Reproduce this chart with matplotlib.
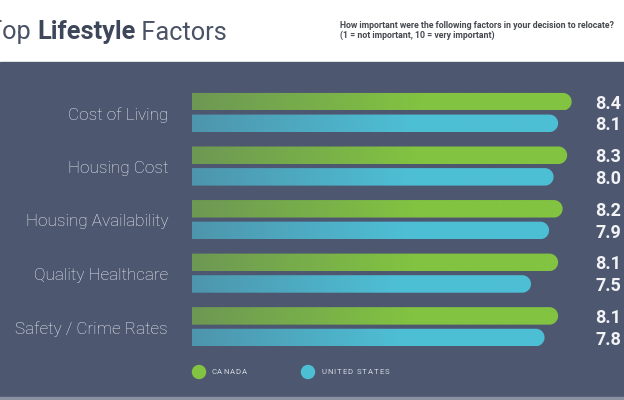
import numpy as np
import matplotlib
matplotlib.use("Agg")
import matplotlib.pyplot as plt
from matplotlib import transforms
from matplotlib.patches import Rectangle, Circle, Polygon
from matplotlib.colors import to_rgb
from matplotlib.font_manager import FontProperties

# data
factors = ["Cost of Living", "Housing Cost", "Housing Availability",
           "Quality Healthcare", "Safety / Crime Rates"]
canada = [8.4, 8.3, 8.2, 8.1, 8.1]
united_states = [8.1, 8.0, 7.9, 7.5, 7.8]
series_names = ["CANADA", "UNITED STATES"]

W, H = 624, 400
BG = "#4e5770"
GREEN = "#82c341"
BLUE = "#4dbfd5"
TITLE_COL = "#3d4759"

# layout in pixels (from top-left)
bar_x0 = 192
px_per_unit = 45.2
grp_y0 = 112.5
grp_step = 53.55
bar_h = 17.5
bar_off = 10.8

fig = plt.figure(figsize=(W / 100, H / 100), dpi=100)
px = transforms.Affine2D().scale(1 / W, -1 / H).translate(0, 1) + fig.transFigure
renderer = fig.canvas.get_renderer()

fig.patches.append(Rectangle((0, 62), W, 335, transform=px, color=BG, zorder=-2))
fig.patches.append(Rectangle((0, 397), W, 3, transform=px, color="#8a90a0", zorder=-2))


def spaced_text(x, y, s, track, size, color):
    # letter-spaced text: place each char at the advance of its prefix
    fp = FontProperties(family="Roboto", size=size)
    for k, ch in enumerate(s):
        if ch == " ":
            continue
        w = renderer.get_text_width_height_descent(s[:k], fp, ismath=False)[0] if k else 0
        fig.text(x + w + k * track, y, ch, transform=px, ha="left", va="center",
                 fontproperties=fp, color=color)


# title, three pieces in a row
x = -13
for piece, wt, col in (("Top ", "normal", "#4a5366"), ("Lifestyle", "bold", TITLE_COL),
                       (" Factors", "normal", "#4a5366")):
    t = fig.text(x, 39.5, piece, transform=px, family="Roboto", weight=wt,
                 fontsize=18.3, color=col, va="baseline", ha="left")
    x = t.get_window_extent(renderer).x1

fig.text(340, 26, "How important were the following factors in your decision to relocate?",
         transform=px, family="Roboto", weight="bold", fontsize=6.3,
         color="#45484f", va="center", ha="left")
fig.text(340, 35, "(1 = not important, 10 = very important)",
         transform=px, family="Roboto", weight="bold", fontsize=6.3,
         color="#45484f", va="center", ha="left")

ax = fig.add_axes([0, 0, 1, 1])
ax.patch.set_visible(False)
ax.axis("off")


def fade(col, amount):
    c = np.array(to_rgb(col))
    b = np.array(to_rgb(BG))
    return c * (1 - amount) + b * amount


hh = bar_h / 2 / grp_step
rx = bar_h / 2 / px_per_unit
ang = np.linspace(-np.pi / 2, np.pi / 2, 40)
tt = np.linspace(0, 1, 256)
ramp = np.clip(tt / 0.6, 0, 1)

for i, name in enumerate(factors):
    for val, col, sgn in ((canada[i], GREEN, -1), (united_states[i], BLUE, 1)):
        yc = i + sgn * bar_off / grp_step
        verts = [(0, yc - hh)]
        verts += [(val - rx + rx * np.cos(a), yc + hh * np.sin(a)) for a in ang]
        verts += [(0, yc + hh)]
        poly = Polygon(verts, closed=True, facecolor="none", edgecolor="none",
                       transform=ax.transData)
        ax.add_patch(poly)
        left = fade(col, 0.4)
        right = np.array(to_rgb(col))
        img = left[None, :] * (1 - ramp[:, None]) + right[None, :] * ramp[:, None]
        im = ax.imshow(img[None, :, :], extent=(0, val, yc + hh, yc - hh),
                       aspect="auto", interpolation="bilinear", zorder=2)
        im.set_clip_path(poly)
        ax.text((595 - bar_x0) / px_per_unit, yc + 0.04, f"{val:.1f}",
                family="Roboto", weight="bold", fontsize=13, color="#f2f3f5",
                ha="left", va="center")
    ax.text((168 - bar_x0) / px_per_unit, i + 0.04, name, family="Roboto", weight="light",
            fontsize=12.3, color="#eceef2", ha="right", va="center")

ax.set_xlim(-bar_x0 / px_per_unit, (W - bar_x0) / px_per_unit)
ax.set_ylim((H - grp_y0) / grp_step, -grp_y0 / grp_step)
ax.set_aspect("auto")

# legend
for (cx, tx), col, lab in zip(((199, 211), (308, 321)), (GREEN, BLUE), series_names):
    fig.patches.append(Circle((cx, 372), 6.5, transform=px, color=col, zorder=3))
    spaced_text(tx, 372.5, lab, 1.0, 5.6, "#d4d8e0")

fig.savefig("out.png", dpi=100)
